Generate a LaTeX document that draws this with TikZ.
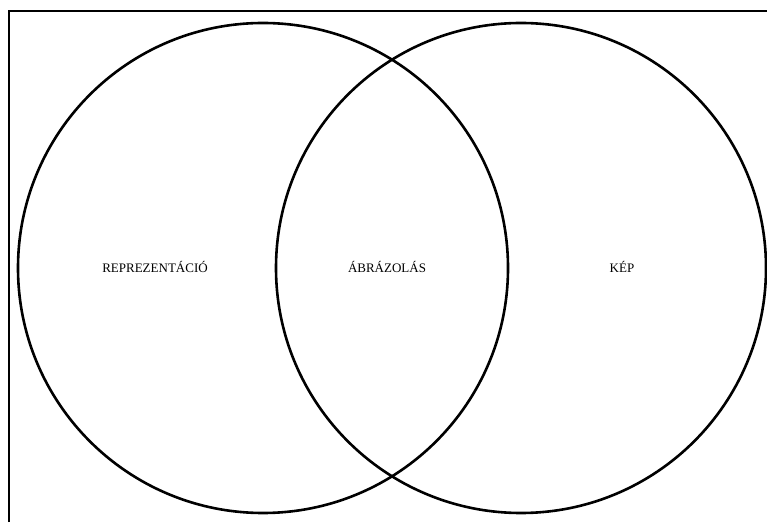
\documentclass[tikz,border=0pt]{standalone}
\usepackage{fontspec}
\setmainfont{Liberation Serif}

\begin{document}
\begin{tikzpicture}
  [x=1pt,y=1pt,every node/.style={font=\fontsize{13}{15}\selectfont},
   halmaz/.style={circle,draw,line width=2.6pt,inner sep=0pt,minimum size=490pt}]
  \useasboundingbox (0,0) rectangle (767,522);
  \draw[line width=2pt] (8.5,0) |- (767,510.5);

  \node[halmaz] (bal) at (263,254) {};
  \node[halmaz] (jobb) at (521,254) {};

  \node (rep) at (155,255) {REPREZENTÁCIÓ};
  \node (abr) at (387,255) {ÁBRÁZOLÁS};
  \node (kep) at (622,255) {KÉP};

\end{tikzpicture}
\end{document}
